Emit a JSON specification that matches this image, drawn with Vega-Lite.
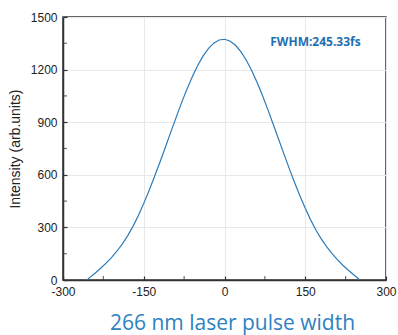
{
  "$schema": "https://vega.github.io/schema/vega-lite/v6.json",
  "autosize": {"type": "none"},
  "width": 323,
  "height": 263,
  "padding": {"left": 63, "top": 17, "right": 12, "bottom": 55},
  "background": "white",
  "config": {
    "view": {"stroke": "#333333", "strokeWidth": 1.5},
    "font": "Liberation Sans"
  },
  "datasets": {
    "pulse": [
      {"t": -255.5, "i": 0},
      {"t": -250, "i": 15},
      {"t": -240, "i": 40},
      {"t": -230, "i": 67},
      {"t": -220, "i": 96},
      {"t": -210, "i": 128},
      {"t": -200, "i": 164},
      {"t": -190, "i": 205},
      {"t": -180, "i": 252},
      {"t": -170, "i": 306},
      {"t": -160, "i": 368},
      {"t": -150, "i": 437},
      {"t": -140, "i": 511},
      {"t": -130, "i": 590},
      {"t": -120, "i": 672},
      {"t": -110, "i": 756},
      {"t": -100, "i": 842},
      {"t": -90, "i": 926},
      {"t": -80, "i": 1009},
      {"t": -70, "i": 1087},
      {"t": -60, "i": 1158},
      {"t": -50, "i": 1222},
      {"t": -40, "i": 1277},
      {"t": -30, "i": 1320},
      {"t": -20, "i": 1351},
      {"t": -10, "i": 1369},
      {"t": 0, "i": 1373},
      {"t": 10, "i": 1363},
      {"t": 20, "i": 1340},
      {"t": 30, "i": 1304},
      {"t": 40, "i": 1256},
      {"t": 50, "i": 1198},
      {"t": 60, "i": 1131},
      {"t": 70, "i": 1056},
      {"t": 80, "i": 976},
      {"t": 90, "i": 893},
      {"t": 100, "i": 807},
      {"t": 110, "i": 722},
      {"t": 120, "i": 638},
      {"t": 130, "i": 558},
      {"t": 140, "i": 481},
      {"t": 150, "i": 409},
      {"t": 160, "i": 343},
      {"t": 170, "i": 284},
      {"t": 180, "i": 233},
      {"t": 190, "i": 189},
      {"t": 200, "i": 150},
      {"t": 210, "i": 115},
      {"t": 220, "i": 84},
      {"t": 230, "i": 56},
      {"t": 240, "i": 30},
      {"t": 250, "i": 4},
      {"t": 251.5, "i": 0}
    ],
    "note": [{"t": 85, "i": 1360, "label": "FWHM:245.33fs"}],
    "xminor": [{"v": -225}, {"v": -75}, {"v": 75}, {"v": 225}],
    "yminor": [{"v": 150}, {"v": 450}, {"v": 750}, {"v": 1050}, {"v": 1350}]
  },
  "layer": [
    {
      "data": {"name": "pulse"},
      "mark": {"type": "line", "color": "#2b7bba", "strokeWidth": 1.2, "clip": true},
      "encoding": {
        "x": {
          "field": "t", "type": "quantitative",
          "scale": {"domain": [-300, 300], "nice": false, "zero": false},
          "axis": {
            "values": [-300, -150, 0, 150, 300],
            "labelExpr": "toString(datum.value)",
            "title": "266 nm laser pulse width",
            "titleColor": "#2e82c0",
            "titleFont": "Open Sans",
            "titleFontSize": 21,
            "titleFontWeight": "normal",
            "titlePadding": 15,
            "titleX": 169,
            "labelFontSize": 12,
            "labelColor": "#222222",
            "labelPadding": 10,
            "labelFlush": false,
            "tickSize": -4,
            "tickColor": "#333333",
            "tickWidth": 1.2,
            "domainColor": "#333333",
            "domainWidth": 1.5,
            "gridColor": "#e8e8e8",
            "gridWidth": 1
          }
        },
        "y": {
          "field": "i", "type": "quantitative",
          "scale": {"domain": [0, 1500], "nice": false},
          "axis": {
            "values": [0, 300, 600, 900, 1200, 1500],
            "labelExpr": "toString(datum.value)",
            "title": "Intensity (arb.units)",
            "titleColor": "#222222",
            "titleFontSize": 14,
            "titleFontWeight": "normal",
            "titlePadding": 8,
            "labelFontSize": 12,
            "labelColor": "#222222",
            "labelPadding": 10,
            "labelFlush": false,
            "tickSize": -4,
            "tickColor": "#333333",
            "tickWidth": 1.2,
            "domainColor": "#333333",
            "domainWidth": 1.5,
            "gridColor": "#e8e8e8",
            "gridWidth": 1
          }
        }
      }
    },
    {
      "data": {"name": "xminor"},
      "mark": {"type": "tick", "orient": "vertical", "color": "#333333", "thickness": 1.2, "size": 4, "yOffset": -2},
      "encoding": {
        "x": {"field": "v", "type": "quantitative"},
        "y": {"datum": 0, "type": "quantitative"}
      }
    },
    {
      "data": {"name": "yminor"},
      "mark": {"type": "tick", "orient": "horizontal", "color": "#333333", "thickness": 1.2, "size": 4, "xOffset": 2},
      "encoding": {
        "y": {"field": "v", "type": "quantitative"},
        "x": {"datum": -300, "type": "quantitative"}
      }
    },
    {
      "data": {"name": "note"},
      "mark": {"type": "text", "align": "left", "baseline": "middle", "font": "Open Sans", "fontWeight": "bold", "fontSize": 12, "color": "#1f6fb2"},
      "encoding": {
        "x": {"field": "t", "type": "quantitative"},
        "y": {"field": "i", "type": "quantitative"},
        "text": {"field": "label"}
      }
    }
  ]
}
